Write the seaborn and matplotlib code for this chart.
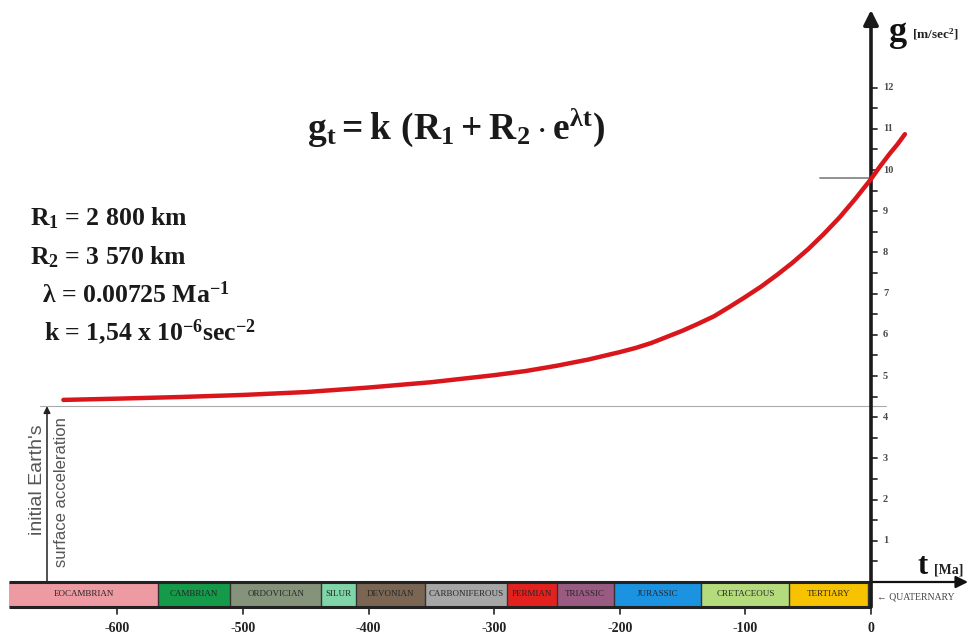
import numpy as np
import pandas as pd
import matplotlib
matplotlib.use("Agg")
import matplotlib.pyplot as plt
import seaborn as sns

# ---- data ----
t_ma = [-643, -600, -550, -500, -450, -400, -350, -300, -275, -250, -225,
        -200, -187.5, -175, -162.5, -150, -137.5, -125, -112.5, -100, -87.5,
        -75, -62.5, -50, -37.5, -25, -12.5, 0, 7, 15, 21, 27]
g_val = [4.42, 4.45, 4.49, 4.54, 4.61, 4.72, 4.85, 5.02, 5.12, 5.25, 5.40,
         5.58, 5.68, 5.80, 5.95, 6.10, 6.27, 6.45, 6.68, 6.92, 7.17,
         7.45, 7.75, 8.08, 8.45, 8.85, 9.30, 9.78, 10.08, 10.40, 10.62, 10.87]

period_names = ["EOCAMBRIAN", "CAMBRIAN", "ORDOVICIAN", "SILUR", "DEVONIAN",
                "CARBONIFEROUS", "PERMIAN", "TRIASSIC", "JURASSIC",
                "CRETACEOUS", "TERTIARY", ""]
period_start = [-686, -568, -510, -438, -410, -355, -290, -250, -205, -135, -65, -2]
period_end = [-568, -510, -438, -410, -355, -290, -250, -205, -135, -65, -2, 0]
period_colors = ["#ee9aa2", "#149a48", "#84937a", "#7fd4a8", "#7a6652",
                 "#a6a6a6", "#e3221f", "#9a5b82", "#1b93e0", "#b5dc7c",
                 "#f7c200", "#d81e1e"]

x_ticks = [-600, -500, -400, -300, -200, -100, 0]
y_ticks = [1, 2, 3, 4, 5, 6, 7, 8, 9, 10, 11, 12]
g_today = 9.8
g_initial = 4.27

df = pd.DataFrame({"t": t_ma, "g": g_val})

sns.set_style("white")
plt.rcParams["font.family"] = ["Liberation Serif", "DejaVu Serif"]
plt.rcParams["mathtext.fontset"] = "custom"
plt.rcParams["mathtext.rm"] = "Liberation Serif:bold"
plt.rcParams["mathtext.it"] = "Liberation Serif:bold"
plt.rcParams["mathtext.bf"] = "Liberation Serif:bold"

W, H = 975, 637
fig = plt.figure(figsize=(W / 100, H / 100), dpi=100)
ax = fig.add_axes([0, 0, 1, 1])
px_per_ma = 1.256
px_per_g = 41.2
x0_px, y0_px = 871, 582

def X(px):
    return (px - x0_px) / px_per_ma

def Y(py):
    return (y0_px - py) / px_per_g

bar_bottom = Y(607)

# timescale bar
for name, s, e, c in zip(period_names, period_start, period_end, period_colors):
    ax.fill_between([s, e], bar_bottom, 0, color=c, lw=0, zorder=2)
    ax.plot([e, e], [bar_bottom, 0], color="#333333", lw=1.0, zorder=3)
    if name:
        ax.text((s + e) / 2, bar_bottom / 2, name, ha="center", va="center",
                fontsize=6.5, color="#262626", zorder=4)
ax.plot([period_start[0], 0], [bar_bottom, bar_bottom], color="#222222", lw=2.2,
        zorder=3, solid_capstyle="butt")
ax.plot([period_start[0], 0], [0, 0], color="#222222", lw=2.2, zorder=3,
        solid_capstyle="butt")

# x axis arrow
ax.annotate("", xy=(X(968), 0), xytext=(0, 0),
            arrowprops=dict(arrowstyle="-|>", color="#111111", lw=1.6,
                            mutation_scale=18, shrinkA=0, shrinkB=0), zorder=5)
ax.text(X(877), Y(597), "\u2190 QUATERNARY", fontsize=7, color="#444444",
        ha="left", va="center")
ax.text(X(918), Y(567), "t", fontsize=22, fontweight="bold", ha="left",
        va="center", color="#111111")
ax.text(X(934), Y(570), "[Ma]", fontsize=10, fontweight="bold", ha="left",
        va="center", color="#222222")

# x ticks below the bar
for xt in x_ticks:
    ax.plot([xt, xt], [bar_bottom, Y(614)], color="#222222", lw=1.2)
    ax.text(xt, Y(628), f"{xt}", fontsize=10, fontweight="bold", ha="center",
            va="center", color="#222222")

# y axis with arrow
ax.annotate("", xy=(0, Y(10)), xytext=(0, bar_bottom),
            arrowprops=dict(arrowstyle="-|>", color="#1a1a1a", lw=2.6,
                            mutation_scale=22, shrinkA=0, shrinkB=0), zorder=5)
for v in np.arange(0.5, 12.01, 0.5):
    ax.plot([0, X(877)], [v, v], color="#333333", lw=1.3, zorder=4)
for yt in y_ticks:
    ax.text(X(883), yt, f"{yt}", fontsize=7.5, fontweight="bold", ha="left",
            va="center", color="#4a4a4a")
ax.text(X(889), Y(32), "g", fontsize=26, fontweight="bold", ha="left",
        va="center", color="#111111")
ax.text(X(912), Y(34), r"[m/sec$^{2}$]", fontsize=9.5, fontweight="bold",
        ha="left", va="center", color="#222222")

# reference lines
ax.plot([X(820), 0], [g_today, g_today], color="#888888", lw=1.3, zorder=3)
ax.plot([X(40), X(886)], [g_initial, g_initial], color="#aaaaaa", lw=0.8, zorder=1)
ax.annotate("", xy=(X(47), g_initial), xytext=(X(47), 0),
            arrowprops=dict(arrowstyle="-|>", color="#222222", lw=1.1,
                            mutation_scale=10, shrinkA=0, shrinkB=0))
ax.text(X(37), Y(480), "initial Earth's", rotation=90, ha="center", va="center",
        fontsize=14, family=["Liberation Sans", "DejaVu Sans"], color="#555555")
ax.text(X(61), Y(492), "surface acceleration", rotation=90, ha="center",
        va="center", fontsize=12, family=["Liberation Sans", "DejaVu Sans"],
        color="#555555")

# curve
sns.lineplot(data=df, x="t", y="g", ax=ax, color="#d9161c", lw=3.2, zorder=6,
             legend=False)
ax.set_xlim((0 - x0_px) / px_per_ma, (W - x0_px) / px_per_ma)
ax.set_ylim((y0_px - H) / px_per_g, y0_px / px_per_g)
ax.axis("off")

# formula and parameters
ax.text(X(456), Y(128), r"$\mathbf{g_t = k\ (R_1 + R_2 \cdot e^{\lambda t})}$",
        fontsize=27, ha="center", va="center", color="#1a1a1a")
params = [r"R$_1$ = 2 800 km", r"R$_2$ = 3 570 km",
          r"$\lambda$ = 0.00725 Ma$^{-1}$", r"k = 1,54 x 10$^{-6}$sec$^{-2}$"]
param_x = [30, 30, 42, 44]
param_y = [218, 257, 295, 332]
for txt, px, py in zip(params, param_x, param_y):
    ax.text(X(px), Y(py), txt, fontsize=18.5, fontweight="bold", ha="left",
            va="center", color="#1a1a1a")

fig.savefig("out.png", dpi=100)
